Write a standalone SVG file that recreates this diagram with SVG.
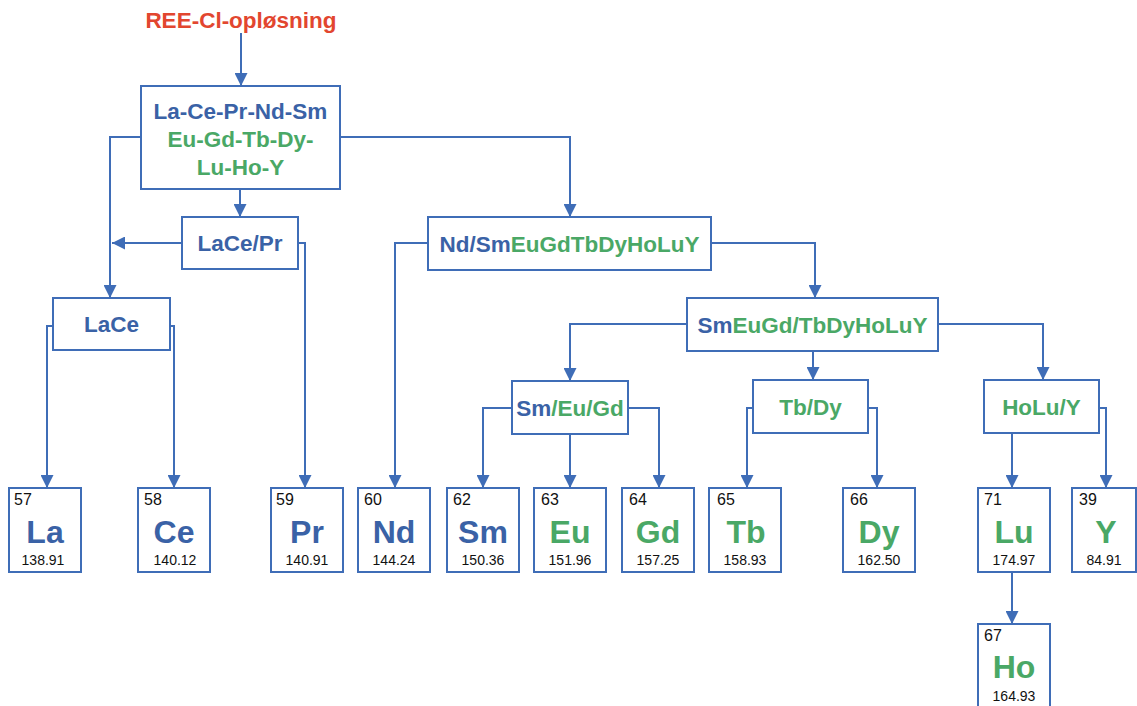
<svg xmlns="http://www.w3.org/2000/svg" width="1137" height="706" viewBox="0 0 1137 706">
<defs>
<style>
.box{fill:#fff;stroke:#3f6db7;stroke-width:2}
.lbl{font-family:"Liberation Sans",Arial,sans-serif;font-weight:bold;font-size:22.5px;text-anchor:middle}
.b{fill:#3a62a6}
.g{fill:#4aa866}
.num{font-family:"Liberation Sans",Arial,sans-serif;font-size:16px;fill:#111}
.sym{font-family:"Liberation Sans",Arial,sans-serif;font-weight:bold;font-size:32px;text-anchor:middle}
.mass{font-family:"Liberation Sans",Arial,sans-serif;font-size:14px;fill:#111;text-anchor:middle}
.c{fill:none;stroke:#3f6db7;stroke-width:2;marker-end:url(#ah)}
</style>
<marker id="ah" markerUnits="userSpaceOnUse" markerWidth="13" markerHeight="13" refX="13" refY="6.5" orient="auto">
<path d="M0,0 L13,6.5 L0,13 z" fill="#3f6db7"/>
</marker>
</defs>
<g id="title"><text x="241" y="28" class="lbl" style="fill:#e2462f">REE-Cl-opløsning</text></g>
<g id="connectors">
<path class="c" d="M241 33 V86"/>
<path class="c" d="M141 137 H110 V298"/>
<path class="c" d="M182 243 H112"/>
<path class="c" d="M240 189 V217"/>
<path class="c" d="M340 137 H570 V217"/>
<path class="c" d="M298 243 H305 V488"/>
<path class="c" d="M53 326 H47 V488"/>
<path class="c" d="M170 326 H174 V488"/>
<path class="c" d="M428 243 H395 V488"/>
<path class="c" d="M711 243 H815 V298"/>
<path class="c" d="M687 324 H570 V381"/>
<path class="c" d="M813 351 V380"/>
<path class="c" d="M938 324 H1043 V380"/>
<path class="c" d="M512 408 H483 V488"/>
<path class="c" d="M570 434 V488"/>
<path class="c" d="M628 408 H659 V488"/>
<path class="c" d="M753 408 H747 V488"/>
<path class="c" d="M868 408 H877 V488"/>
<path class="c" d="M1012 433 V488"/>
<path class="c" d="M1099 408 H1106 V488"/>
<path class="c" d="M1012 572 V624"/>
</g>
<g id="n-all"><rect class="box" x="141" y="86" width="199" height="103"/>
<text x="240.5" y="118.5" class="lbl b">La-Ce-Pr-Nd-Sm</text>
<text x="240.5" y="146.5" class="lbl g">Eu-Gd-Tb-Dy-</text>
<text x="240.5" y="174.5" class="lbl g">Lu-Ho-Y</text></g>
<g id="n-lacepr"><rect class="box" x="182" y="217" width="116" height="52"/><text x="240" y="251" class="lbl b">LaCe/Pr</text></g>
<g id="n-lace"><rect class="box" x="53" y="298" width="117" height="52"/><text x="111.5" y="332" class="lbl b">LaCe</text></g>
<g id="n-ndsm"><rect class="box" x="428" y="217" width="283" height="53"/><text x="569.5" y="252" class="lbl"><tspan class="b">Nd/Sm</tspan><tspan class="g">EuGdTbDyHoLuY</tspan></text></g>
<g id="n-smeugd"><rect class="box" x="687" y="298" width="251" height="53"/><text x="812.5" y="332.5" class="lbl"><tspan class="b">Sm</tspan><tspan class="g">EuGd/TbDyHoLuY</tspan></text></g>
<g id="n-smeugd2"><rect class="box" x="512" y="381" width="116" height="53"/><text x="570" y="415.5" class="lbl"><tspan class="b">Sm</tspan><tspan class="g">/Eu/Gd</tspan></text></g>
<g id="n-tbdy"><rect class="box" x="753" y="380" width="115" height="53"/><text x="810.5" y="414.5" class="lbl g">Tb/Dy</text></g>
<g id="n-holuy"><rect class="box" x="984" y="380" width="115" height="53"/><text x="1041.5" y="414.5" class="lbl g">HoLu/Y</text></g>
<g id="e-la"><rect class="box" x="9" y="488" width="72" height="84"/><text x="14" y="505" class="num">57</text><text x="45" y="543" class="sym b">La</text><text x="43" y="565" class="mass">138.91</text></g>
<g id="e-ce"><rect class="box" x="138" y="488" width="72" height="84"/><text x="144" y="505" class="num">58</text><text x="174" y="543" class="sym b">Ce</text><text x="175" y="565" class="mass">140.12</text></g>
<g id="e-pr"><rect class="box" x="271" y="488" width="72" height="84"/><text x="276" y="505" class="num">59</text><text x="307" y="543" class="sym b">Pr</text><text x="307" y="565" class="mass">140.91</text></g>
<g id="e-nd"><rect class="box" x="358" y="488" width="72" height="84"/><text x="364" y="505" class="num">60</text><text x="394" y="543" class="sym b">Nd</text><text x="394" y="565" class="mass">144.24</text></g>
<g id="e-sm"><rect class="box" x="447" y="488" width="72" height="84"/><text x="453" y="505" class="num">62</text><text x="483" y="543" class="sym b">Sm</text><text x="483" y="565" class="mass">150.36</text></g>
<g id="e-eu"><rect class="box" x="534" y="488" width="72" height="84"/><text x="541" y="505" class="num">63</text><text x="570" y="543" class="sym g">Eu</text><text x="570" y="565" class="mass">151.96</text></g>
<g id="e-gd"><rect class="box" x="622" y="488" width="72" height="84"/><text x="629" y="505" class="num">64</text><text x="658" y="543" class="sym g">Gd</text><text x="658" y="565" class="mass">157.25</text></g>
<g id="e-tb"><rect class="box" x="709" y="488" width="72" height="84"/><text x="717" y="505" class="num">65</text><text x="746" y="543" class="sym g">Tb</text><text x="745" y="565" class="mass">158.93</text></g>
<g id="e-dy"><rect class="box" x="843" y="488" width="72" height="84"/><text x="850" y="505" class="num">66</text><text x="879" y="543" class="sym g">Dy</text><text x="879" y="565" class="mass">162.50</text></g>
<g id="e-lu"><rect class="box" x="978" y="488" width="72" height="84"/><text x="984" y="505" class="num">71</text><text x="1014" y="543" class="sym g">Lu</text><text x="1014" y="565" class="mass">174.97</text></g>
<g id="e-y"><rect class="box" x="1072" y="488" width="64" height="84"/><text x="1079" y="505" class="num">39</text><text x="1106" y="543" class="sym g">Y</text><text x="1104" y="565" class="mass">84.91</text></g>
<g id="e-ho"><rect class="box" x="978" y="624" width="72" height="86"/><text x="984" y="641" class="num">67</text><text x="1014" y="678" class="sym g">Ho</text><text x="1014" y="701" class="mass">164.93</text></g>
</svg>
